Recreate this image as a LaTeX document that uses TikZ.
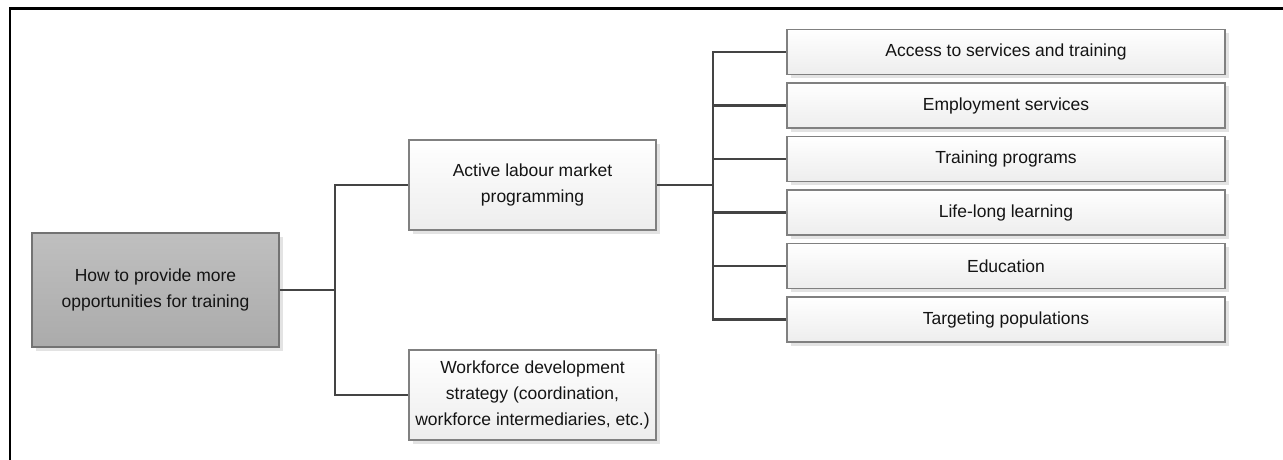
\documentclass[tikz,border=0pt]{standalone}
\usepackage{fontspec}
\setmainfont{Liberation Sans}
\usetikzlibrary{positioning,shadows}
\definecolor{cLink}{RGB}{68,68,68}
\definecolor{cEdge}{RGB}{128,128,128}
\definecolor{cText}{RGB}{20,20,20}

\begin{document}
\begin{tikzpicture}[
   x=1pt,y=-1pt,
   box/.style={draw=cEdge,line width=1.3pt,inner sep=0pt,align=center,text=cText,
     font=\fontsize{17.5}{26}\selectfont,
     drop shadow={shadow xshift=3.5pt,shadow yshift=-3.5pt,fill=black!11,opacity=1}},
   goal/.style={box,draw=black!55,top color=black!25,bottom color=black!33,
     minimum width=247pt,minimum height=114pt},
   branch/.style={box,top color=white,bottom color=black!7,
     minimum width=247pt,minimum height=90pt},
   leaf/.style={box,top color=white,bottom color=black!7,
     minimum width=438pt,minimum height=45pt},
   link/.style={draw=cLink,line width=2.8pt}]
  \useasboundingbox (0,0) rectangle (1283,460);
  % frame
  \draw[line width=2.6pt] (1283,8.7) -- (9.8,8.7) -- (9.8,460);
  % question and its two branches
  \node[goal] (q) at (155.5,290) {How to provide more\\opportunities for training};
  \node[branch] (alm) at (532.5,185) {Active labour market\\programming};
  \node[branch] (wds) at (532.5,395)
    {Workforce development\\strategy (coordination,\\workforce intermediaries, etc.)};
  % programme types
  \foreach \t [count=\i] in {Access to services and training,Employment services,
      Training programs,Life-long learning,Education,Targeting populations}
    \node[leaf] (l\i) at (1006,{52+53.5*(\i-1)}) {\t};
  % connectors
  \coordinate (j1) at (335,290);
  \coordinate (j2) at (713,185);
  \draw[link] (q.east) -- (j1);
  \draw[link] (j1) |- (alm.west);
  \draw[link] (j1) |- (wds.west);
  \draw[link] (alm.east) -- (j2);
  \foreach \i in {1,...,6}
    \draw[link] (j2) |- (l\i.west);
\end{tikzpicture}
\end{document}
